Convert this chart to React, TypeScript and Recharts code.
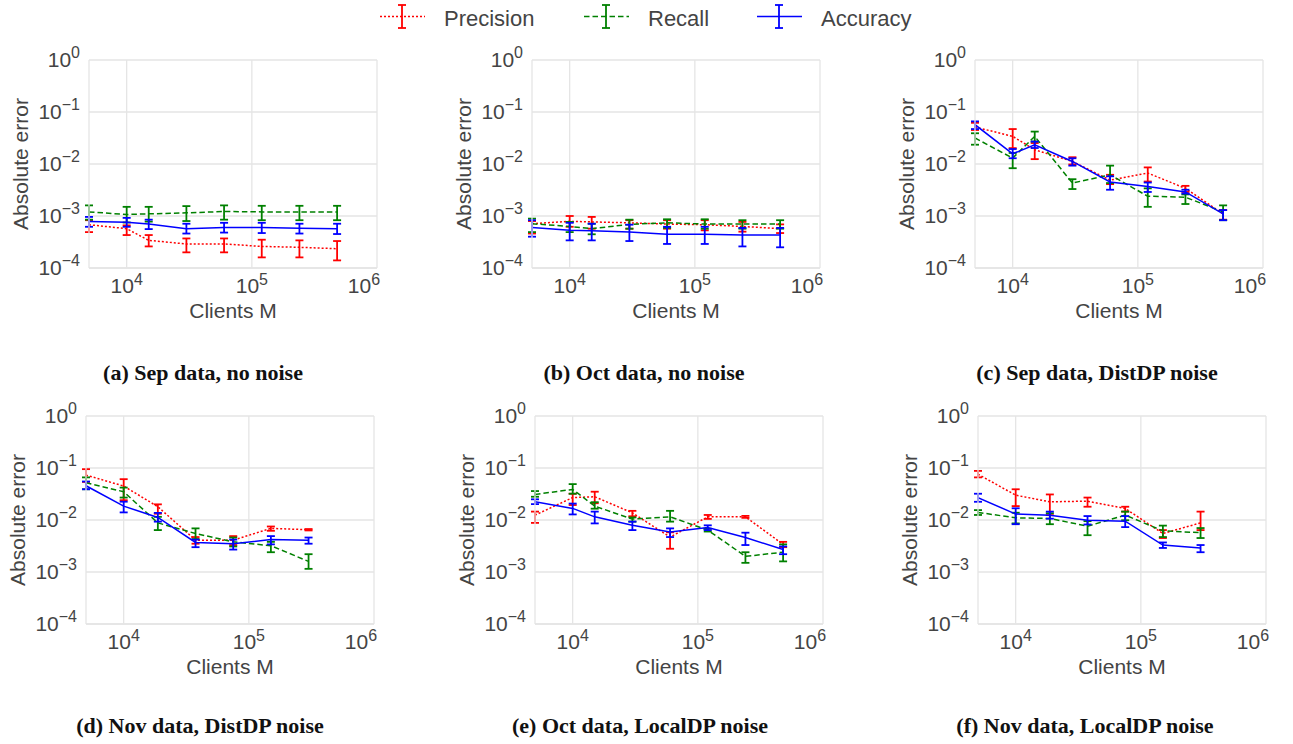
import { LineChart, Line, XAxis, YAxis, CartesianGrid, ErrorBar, Label } from "recharts";

const FONT = "'Liberation Sans', Arial, sans-serif";
const SERIF = "'Liberation Serif', 'Times New Roman', serif";
const TEXT = "#444444";
const GRID = "#e5e5e5";
const RED = "#ff0000";
const GREEN = "#008000";
const BLUE = "#0000ff";

// client counts (x values)
const clientsSepOct = [5000, 10000, 15000, 30000, 60000, 120000, 240000, 480000];
const clientsNov = [5000, 10000, 18750, 37500, 75000, 150000, 300000];

// (a) Sep data, no noise
const sepPrec = [6.8e-4, 5.7e-4, 3.4e-4, 2.9e-4, 2.9e-4, 2.6e-4, 2.5e-4, 2.35e-4];
const sepPrecLo = [4.9e-4, 4.3e-4, 2.6e-4, 2.0e-4, 2.0e-4, 1.6e-4, 1.6e-4, 1.4e-4];
const sepPrecHi = [8.3e-4, 6.6e-4, 4.3e-4, 3.7e-4, 3.7e-4, 3.5e-4, 3.4e-4, 3.3e-4];
const sepRec = [1.2e-3, 1.07e-3, 1.1e-3, 1.15e-3, 1.22e-3, 1.2e-3, 1.2e-3, 1.2e-3];
const sepRecLo = [0.85e-3, 0.75e-3, 0.78e-3, 0.8e-3, 0.85e-3, 0.83e-3, 0.83e-3, 0.83e-3];
const sepRecHi = [1.6e-3, 1.5e-3, 1.5e-3, 1.55e-3, 1.6e-3, 1.57e-3, 1.57e-3, 1.57e-3];
const sepAcc = [7.8e-4, 7.6e-4, 7.0e-4, 5.7e-4, 6.0e-4, 6.0e-4, 5.8e-4, 5.7e-4];
const sepAccLo = [6.2e-4, 6.2e-4, 5.6e-4, 4.6e-4, 4.8e-4, 4.7e-4, 4.6e-4, 4.5e-4];
const sepAccHi = [9.6e-4, 9.2e-4, 8.5e-4, 7.1e-4, 7.4e-4, 7.4e-4, 7.1e-4, 7.1e-4];

// (b) Oct data, no noise
const octPrec = [7.1e-4, 7.9e-4, 7.7e-4, 7.4e-4, 7.0e-4, 6.8e-4, 6.3e-4, 5.7e-4];
const octPrecLo = [4.6e-4, 6.2e-4, 5.7e-4, 5.7e-4, 5.7e-4, 5.3e-4, 5.0e-4, 4.7e-4];
const octPrecHi = [8.0e-4, 1.0e-3, 9.6e-4, 8.3e-4, 8.3e-4, 8.3e-4, 7.7e-4, 6.9e-4];
const octRec = [7.1e-4, 6.3e-4, 5.7e-4, 6.9e-4, 7.4e-4, 7.0e-4, 7.0e-4, 7.0e-4];
const octRecLo = [4.9e-4, 4.9e-4, 4.45e-4, 5.7e-4, 5.9e-4, 5.7e-4, 5.7e-4, 5.7e-4];
const octRecHi = [8.9e-4, 7.7e-4, 7.1e-4, 8.5e-4, 8.65e-4, 8.65e-4, 8.3e-4, 8.3e-4];
const octAcc = [6.0e-4, 5.3e-4, 5.2e-4, 4.9e-4, 4.45e-4, 4.45e-4, 4.3e-4, 4.3e-4];
const octAccLo = [4.0e-4, 3.4e-4, 3.4e-4, 3.3e-4, 2.9e-4, 2.9e-4, 2.6e-4, 2.5e-4];
const octAccHi = [8.3e-4, 7.4e-4, 7.1e-4, 6.8e-4, 6.2e-4, 6.2e-4, 5.9e-4, 5.9e-4];

// (c) Sep data, DistDP noise
const sepDistPrec = [0.0515, 0.034, 0.0188, 0.0112, 0.0049, 0.0067, 0.0034, 0.0011];
const sepDistPrecLo = [0.045, 0.0202, 0.0124, 0.0098, 0.0041, 0.0046, 0.0029, 0.00085];
const sepDistPrecHi = [0.062, 0.047, 0.0253, 0.0135, 0.0062, 0.0086, 0.0038, 0.0013];
const sepDistRec = [0.0316, 0.013, 0.034, 0.0043, 0.0062, 0.0024, 0.0023, 0.0012];
const sepDistRecLo = [0.0235, 0.0083, 0.027, 0.0033, 0.0043, 0.0015, 0.0017, 0.00083];
const sepDistRecHi = [0.039, 0.0163, 0.042, 0.0051, 0.0093, 0.0034, 0.0026, 0.0016];
const sepDistAcc = [0.057, 0.0157, 0.0235, 0.0112, 0.0045, 0.0037, 0.0029, 0.0011];
const sepDistAccLo = [0.047, 0.0129, 0.0203, 0.0093, 0.0032, 0.0029, 0.0027, 0.00083];
const sepDistAccHi = [0.066, 0.0194, 0.027, 0.0129, 0.0058, 0.0044, 0.0032, 0.0013];

// (d) Nov data, DistDP noise
const novDistPrec = [0.073, 0.045, 0.018, 0.0041, 0.0041, 0.0069, 0.0065];
const novDistPrecLo = [0.054, 0.024, 0.0132, 0.0035, 0.0033, 0.0062, 0.0063];
const novDistPrecHi = [0.095, 0.061, 0.02, 0.0047, 0.0049, 0.0075, 0.0067];
const novDistRec = [0.052, 0.035, 0.0088, 0.0055, 0.0038, 0.0032, 0.0016];
const novDistRecLo = [0.039, 0.027, 0.0064, 0.0043, 0.0031, 0.0024, 0.00115];
const novDistRecHi = [0.066, 0.042, 0.0115, 0.0069, 0.0046, 0.0038, 0.0022];
const novDistAcc = [0.0455, 0.0185, 0.0112, 0.0037, 0.0035, 0.0042, 0.0041];
const novDistAccLo = [0.039, 0.014, 0.0093, 0.003, 0.0027, 0.0034, 0.0035];
const novDistAccHi = [0.055, 0.0225, 0.0137, 0.0042, 0.0042, 0.0049, 0.0046];

// (e) Oct data, LocalDP noise
const octLocPrec = [0.0124, 0.027, 0.028, 0.0137, 0.0047, 0.0115, 0.0115, 0.0034];
const octLocPrecLo = [0.0088, 0.0194, 0.021, 0.0118, 0.0028, 0.0105, 0.011, 0.003];
const octLocPrecHi = [0.0145, 0.032, 0.035, 0.015, 0.0058, 0.0125, 0.012, 0.0038];
const octLocRec = [0.031, 0.0387, 0.0185, 0.0104, 0.0115, 0.0064, 0.002, 0.0024];
const octLocRecLo = [0.028, 0.032, 0.0165, 0.0093, 0.0093, 0.006, 0.0015, 0.0016];
const octLocRecHi = [0.036, 0.049, 0.022, 0.0112, 0.015, 0.0068, 0.0024, 0.0034];
const octLocAcc = [0.0224, 0.0167, 0.0115, 0.0079, 0.0059, 0.0072, 0.0046, 0.0027];
const octLocAccLo = [0.0202, 0.0128, 0.0086, 0.0064, 0.0047, 0.0064, 0.0033, 0.0022];
const octLocAccHi = [0.025, 0.0207, 0.0145, 0.0093, 0.0069, 0.0079, 0.0057, 0.0031];

// (f) Nov data, LocalDP noise
const novLocPrec = [0.076, 0.03, 0.0224, 0.023, 0.0167, 0.0055, 0.0088];
const novLocPrecLo = [0.066, 0.0185, 0.0124, 0.018, 0.0145, 0.0045, 0.0064];
const novLocPrecHi = [0.088, 0.039, 0.031, 0.027, 0.018, 0.0064, 0.0145];
const novLocRec = [0.014, 0.011, 0.0107, 0.0076, 0.0124, 0.0062, 0.0057];
const novLocRecLo = [0.0125, 0.0086, 0.0083, 0.0051, 0.0099, 0.0047, 0.0045];
const novLocRecHi = [0.0155, 0.0138, 0.0135, 0.0095, 0.0145, 0.0078, 0.007];
const novLocAcc = [0.027, 0.013, 0.0124, 0.0099, 0.0095, 0.0033, 0.0029];
const novLocAccLo = [0.0224, 0.0083, 0.0106, 0.0082, 0.0073, 0.0029, 0.0024];
const novLocAccHi = [0.032, 0.0168, 0.0145, 0.0119, 0.0119, 0.0037, 0.0033];

const xTicks = [1e4, 1e5, 1e6];
const yTicks = [1e-4, 1e-3, 1e-2, 1e-1, 1];

function rows(xs: number[], p: number[], pLo: number[], pHi: number[], r: number[], rLo: number[], rHi: number[], a: number[], aLo: number[], aHi: number[]) {
  return xs.map((x, i) => ({
    x,
    p: p[i],
    pErr: [p[i] - pLo[i], pHi[i] - p[i]],
    r: r[i],
    rErr: [r[i] - rLo[i], rHi[i] - r[i]],
    a: a[i],
    aErr: [a[i] - aLo[i], aHi[i] - a[i]],
  }));
}

const panels = [
  { caption: "(a) Sep data, no noise", left: 89, top: 60, cap: 203, capY: 361, data: rows(clientsSepOct, sepPrec, sepPrecLo, sepPrecHi, sepRec, sepRecLo, sepRecHi, sepAcc, sepAccLo, sepAccHi) },
  { caption: "(b) Oct data, no noise", left: 532, top: 60, cap: 644, capY: 361, data: rows(clientsSepOct, octPrec, octPrecLo, octPrecHi, octRec, octRecLo, octRecHi, octAcc, octAccLo, octAccHi) },
  { caption: "(c) Sep data, DistDP noise", left: 975, top: 60, cap: 1097, capY: 361, data: rows(clientsSepOct, sepDistPrec, sepDistPrecLo, sepDistPrecHi, sepDistRec, sepDistRecLo, sepDistRecHi, sepDistAcc, sepDistAccLo, sepDistAccHi) },
  { caption: "(d) Nov data, DistDP noise", left: 86, top: 416, cap: 200, capY: 714, data: rows(clientsNov, novDistPrec, novDistPrecLo, novDistPrecHi, novDistRec, novDistRecLo, novDistRecHi, novDistAcc, novDistAccLo, novDistAccHi) },
  { caption: "(e) Oct data, LocalDP noise", left: 535, top: 416, cap: 640, capY: 714, data: rows(clientsSepOct, octLocPrec, octLocPrecLo, octLocPrecHi, octLocRec, octLocRecLo, octLocRecHi, octLocAcc, octLocAccLo, octLocAccHi) },
  { caption: "(f) Nov data, LocalDP noise", left: 978, top: 416, cap: 1085, capY: 714, data: rows(clientsNov, novLocPrec, novLocPrecLo, novLocPrecHi, novLocRec, novLocRecLo, novLocRecHi, novLocAcc, novLocAccLo, novLocAccHi) },
];

function exponent(v: number) {
  const e = Math.round(Math.log10(v));
  return e < 0 ? "\u2212" + -e : String(e);
}

function XTick({ x, y, payload }: any) {
  return (
    <text x={x} y={y + 17} textAnchor="middle" fill={TEXT} fontSize={21} fontFamily={FONT}>
      10<tspan dy={-8} fontSize={16}>{exponent(payload.value)}</tspan>
    </text>
  );
}

function YTick({ x, y, payload }: any) {
  return (
    <text x={x - 1} y={y + 7} textAnchor="end" fill={TEXT} fontSize={21} fontFamily={FONT}>
      10<tspan dy={-9} fontSize={16}>{exponent(payload.value)}</tspan>
    </text>
  );
}

const PLOT_W = 288;
const PLOT_H = 208;
const AXIS_W = 90;
const TOP_PAD = 26;

function Panel({ data, left, top }: any) {
  return (
    <div style={{ position: "absolute", left: left - AXIS_W, top: top - TOP_PAD }}>
      <LineChart
        width={AXIS_W + PLOT_W + 15}
        height={TOP_PAD + PLOT_H + 60}
        data={data}
        margin={{ top: TOP_PAD, right: 15, bottom: 0, left: 0 }}
      >
        <CartesianGrid stroke={GRID} strokeWidth={1.3} horizontalValues={yTicks} verticalValues={xTicks} />
        <XAxis
          dataKey="x"
          type="number"
          scale="log"
          domain={[5000, 1e6]}
          ticks={xTicks}
          allowDataOverflow
          height={60}
          axisLine={{ stroke: GRID, strokeWidth: 1.3 }}
          tickLine={false}
          tick={<XTick />}
        >
          <Label
            content={({ viewBox }: any) => (
              <text x={viewBox.x + viewBox.width / 2} y={viewBox.y + 50} textAnchor="middle" fill={TEXT} fontSize={21} fontFamily={FONT}>
                Clients M
              </text>
            )}
          />
        </XAxis>
        <YAxis
          type="number"
          scale="log"
          domain={[1e-4, 1]}
          ticks={yTicks}
          allowDataOverflow
          width={AXIS_W}
          axisLine={{ stroke: GRID, strokeWidth: 1.3 }}
          tickLine={false}
          tick={<YTick />}
        >
          <Label
            content={({ viewBox }: any) => {
              const cx = viewBox.x + viewBox.width - 61;
              const cy = viewBox.y + viewBox.height / 2;
              return (
                <text x={cx} y={cy} transform={`rotate(-90, ${cx}, ${cy})`} textAnchor="middle" fill={TEXT} fontSize={21} fontFamily={FONT}>
                  Absolute error
                </text>
              );
            }}
          />
        </YAxis>
        <Line dataKey="p" stroke={RED} strokeWidth={1.5} strokeDasharray="2 2" dot={false} isAnimationActive={false}>
          <ErrorBar dataKey="pErr" direction="y" width={4} stroke={RED} strokeWidth={1.8} isAnimationActive={false} />
        </Line>
        <Line dataKey="r" stroke={GREEN} strokeWidth={1.5} strokeDasharray="5.5 3" dot={false} isAnimationActive={false}>
          <ErrorBar dataKey="rErr" direction="y" width={4} stroke={GREEN} strokeWidth={1.8} isAnimationActive={false} />
        </Line>
        <Line dataKey="a" stroke={BLUE} strokeWidth={1.5} dot={false} isAnimationActive={false}>
          <ErrorBar dataKey="aErr" direction="y" width={4} stroke={BLUE} strokeWidth={1.8} isAnimationActive={false} />
        </Line>
      </LineChart>
    </div>
  );
}

const legendItems = [
  { name: "Precision", color: RED, dash: "2 2", x: 380 },
  { name: "Recall", color: GREEN, dash: "5.5 3", x: 584 },
  { name: "Accuracy", color: BLUE, dash: undefined, x: 757 },
];

function LegendBar() {
  return (
    <svg width={1293} height={40} style={{ position: "absolute", left: 0, top: 0 }}>
      {legendItems.map((it) => {
        const mid = it.x + 22;
        return (
          <g key={it.name}>
            <line x1={it.x} x2={it.x + 45} y1={16.5} y2={16.5} stroke={it.color} strokeWidth={1.5} strokeDasharray={it.dash} />
            <line x1={mid} x2={mid} y1={5} y2={28} stroke={it.color} strokeWidth={1.8} />
            <line x1={mid - 4} x2={mid + 4} y1={5} y2={5} stroke={it.color} strokeWidth={1.8} />
            <line x1={mid - 4} x2={mid + 4} y1={28} y2={28} stroke={it.color} strokeWidth={1.8} />
            <text x={it.x + 64} y={26} fill={TEXT} fontSize={22} fontFamily={FONT}>
              {it.name}
            </text>
          </g>
        );
      })}
    </svg>
  );
}

export default function App() {
  return (
    <div style={{ position: "absolute", left: 0, top: 0, width: 1293, height: 744, background: "#fff", overflow: "hidden" }}>
      <LegendBar />
      {panels.map((p) => (
        <Panel key={p.caption} data={p.data} left={p.left} top={p.top} />
      ))}
      {panels.map((p) => (
        <div
          key={p.caption + "-cap"}
          style={{
            position: "absolute",
            left: p.cap - 200,
            width: 400,
            top: p.capY,
            textAlign: "center",
            fontFamily: SERIF,
            fontWeight: "bold",
            fontSize: 22,
            color: "#111",
            lineHeight: "24px",
          }}
        >
          {p.caption}
        </div>
      ))}
    </div>
  );
}
